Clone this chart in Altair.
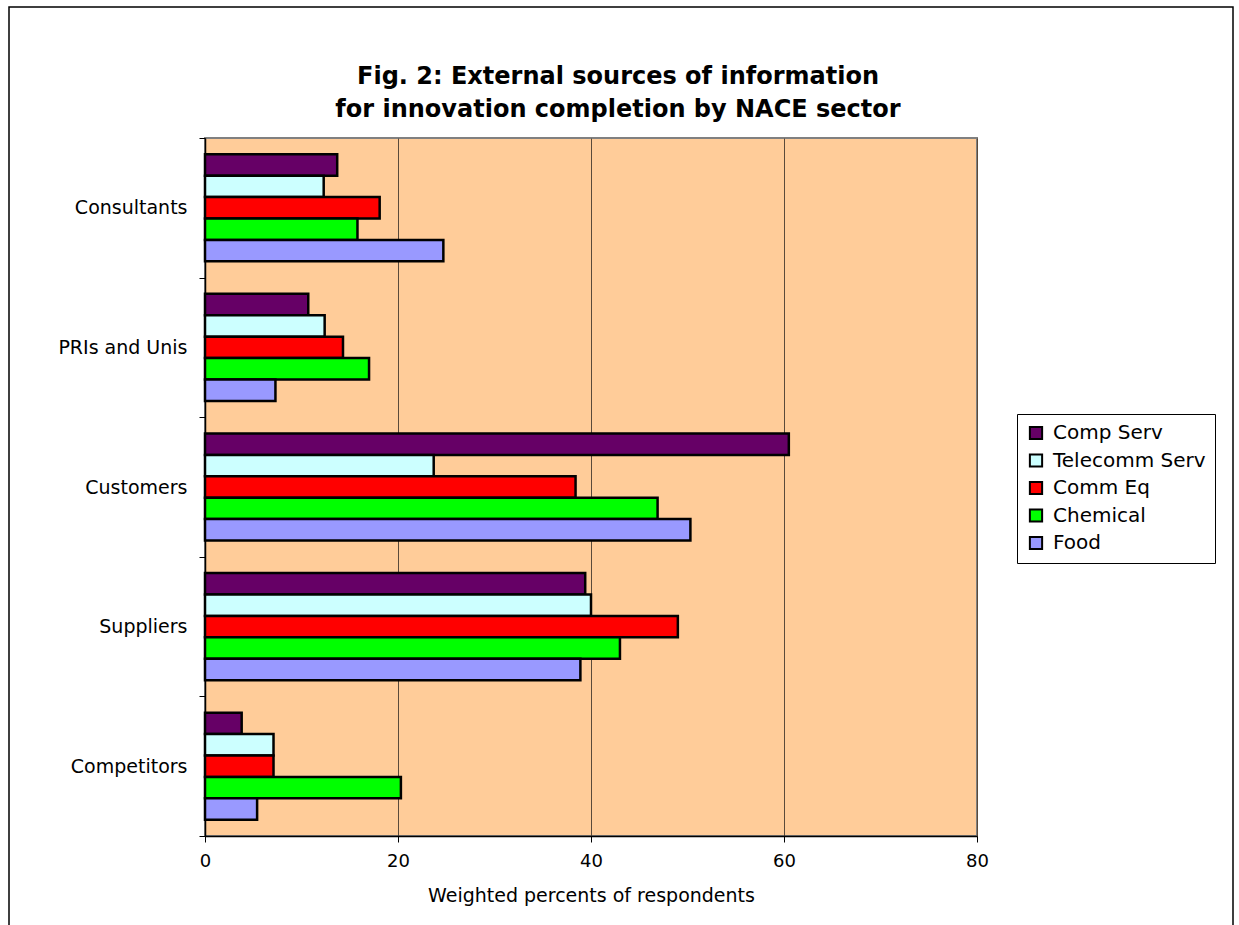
import altair as alt
import pandas as pd

# Information sources (top to bottom) and NACE sectors (bar order inside each group)
sources = ["Consultants", "PRIs and Unis", "Customers", "Suppliers", "Competitors"]
sectors = ["Comp Serv", "Telecomm Serv", "Comm Eq", "Chemical", "Food"]
sector_colors = ["#660066", "#CCFFFF", "#FF0000", "#00FF00", "#9999FF"]

# Weighted percents of respondents, one list per sector, in the order of `sources`
comp_serv = [13.7, 10.7, 60.5, 39.4, 3.8]
telecomm_serv = [12.3, 12.4, 23.7, 40.0, 7.1]
comm_eq = [18.1, 14.3, 38.4, 49.0, 7.1]
chemical = [15.8, 17.0, 46.9, 43.0, 20.3]
food = [24.7, 7.3, 50.3, 38.9, 5.4]

x_ticks = [0, 20, 40, 60, 80]
title_lines = ["Fig. 2: External sources of information",
               "for innovation completion by NACE sector"]

series = dict(zip(sectors, [comp_serv, telecomm_serv, comm_eq, chemical, food]))
rows = []
for sector, vals in series.items():
    for src, v in zip(sources, vals):
        rows.append({"source": src, "sector": sector, "value": v})
df = pd.DataFrame(rows)

FONT = "DejaVu Sans"

bars = alt.Chart(df).mark_bar(stroke="black", strokeWidth=2.5).encode(
    x=alt.X(
        "value:Q",
        scale=alt.Scale(domain=[0, 80], nice=False),
        axis=alt.Axis(
            values=x_ticks,
            title="Weighted percents of respondents",
            titleFontSize=19,
            grid=True,
            gridColor="#5a4a3a",
            gridWidth=1,
            tickSize=6,
            tickColor="black",
            domainColor="black",
            domainWidth=1.5,
            labelPadding=10,
            labelFlush=False,
            titlePadding=16,
        ),
    ),
    y=alt.Y(
        "source:N",
        sort=sources,
        scale=alt.Scale(paddingInner=0, paddingOuter=0),
        axis=alt.Axis(
            title=None,
            tickBand="extent",
            tickSize=6,
            tickColor="black",
            domainColor="black",
            domainWidth=1.5,
            labelPadding=12,
            labelFontSize=19,
            grid=False,
        ),
    ),
    yOffset=alt.YOffset(
        "sector:N",
        sort=sectors,
        scale=alt.Scale(paddingInner=0, paddingOuter=0.76),
    ),
    color=alt.Color(
        "sector:N",
        sort=sectors,
        scale=alt.Scale(domain=sectors, range=sector_colors),
        legend=alt.Legend(
            title=None,
            orient="none",
            legendX=812,
            legendY=276,
            symbolType="square",
            symbolSize=150,
            symbolStrokeColor="black",
            symbolStrokeWidth=2,
            symbolOpacity=1,
            labelFontSize=20,
            labelFont=FONT,
            labelColor="black",
            rowPadding=5.5,
            padding=9,
            labelOffset=7,
            strokeColor="black",
            fillColor="white",
        ),
    ),
)

# Outer chart-area border
frame = alt.Chart(pd.DataFrame({"k": [0]})).mark_rect(
    fill="transparent", stroke="black", strokeWidth=1.5
).encode(
    x=alt.value(-196), x2=alt.value(1028), y=alt.value(-131), y2=alt.value(800)
)

# Two-line heading centred on the chart area
heading = alt.Chart(pd.DataFrame({"k": [0]})).mark_text(
    font=FONT,
    fontSize=24,
    fontWeight="bold",
    color="black",
    align="center",
    baseline="alphabetic",
    lineHeight=33,
).encode(
    x=alt.value(413), y=alt.value(-54), text=alt.value(title_lines)
)

chart = alt.layer(frame, heading, bars).properties(
    width=772,
    height=698,
    padding={"left": 205, "top": 138, "right": 262, "bottom": 89},
    autosize=alt.AutoSizeParams(type="none"),
).configure(
    background="white",
).configure_view(
    fill="#FFCC99", stroke="#808080", strokeWidth=2
).configure_axis(
    labelFont=FONT,
    titleFont=FONT,
    labelFontSize=18,
    titleFontSize=18,
    titleFontWeight="normal",
    labelColor="black",
    titleColor="black",
)

chart.save("out.html", embed_options={"renderer": "svg", "actions": False})
